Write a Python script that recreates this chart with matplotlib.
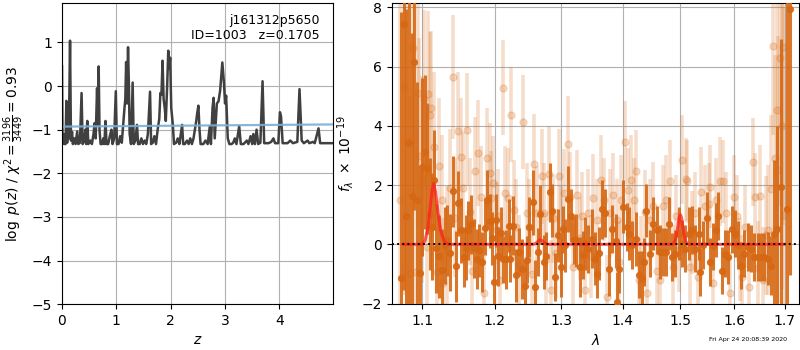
import matplotlib
matplotlib.use('Agg')
import matplotlib.pyplot as plt
from matplotlib.ticker import NullLocator, FixedLocator, FixedFormatter

# ---- left panel: log p(z) ----
pz_z = [0.000, 0.010, 0.030, 0.045, 0.065, 0.080, 0.095, 0.110, 0.125, 0.148,
        0.165, 0.185, 0.200, 0.230, 0.250, 0.280, 0.300, 0.330, 0.360, 0.380,
        0.410, 0.430, 0.445, 0.465, 0.485, 0.520, 0.550, 0.580, 0.600, 0.620,
        0.645, 0.660, 0.675, 0.690, 0.710, 0.740, 0.760, 0.780, 0.800, 0.820,
        0.850, 0.880, 0.910, 0.930, 0.960, 0.990, 1.010, 1.040, 1.070, 1.100,
        1.130, 1.150, 1.165, 1.180, 1.195, 1.215, 1.230, 1.245, 1.270, 1.300,
        1.320, 1.350, 1.380, 1.400, 1.430, 1.460, 1.490, 1.520, 1.550, 1.580,
        1.620, 1.640, 1.670, 1.700, 1.730, 1.760, 1.790, 1.810, 1.830, 1.850,
        1.870, 1.890, 1.910, 1.935, 1.955, 1.975, 1.990, 2.010, 2.040, 2.060,
        2.100, 2.130, 2.160, 2.210, 2.230, 2.260, 2.300, 2.330, 2.360, 2.390,
        2.420, 2.450, 2.470, 2.490, 2.510, 2.530, 2.550, 2.600, 2.640, 2.680,
        2.720, 2.740, 2.770, 2.790, 2.810, 2.850, 2.880, 2.910, 2.950, 2.980,
        3.000, 3.020, 3.050, 3.080, 3.120, 3.150, 3.180, 3.210, 3.260, 3.290,
        3.340, 3.400, 3.430, 3.470, 3.500, 3.520, 3.550, 3.580, 3.610, 3.650,
        3.690, 3.720, 3.800, 3.850, 3.890, 3.920, 3.980, 4.010, 4.030, 4.060,
        4.150, 4.200, 4.250, 4.330, 4.370, 4.410, 4.450, 4.520, 4.550, 4.620,
        4.650, 4.720, 4.750, 4.990]
pz_logp = [0.45, -1.33, -1.10, -1.33, -1.33, -0.34, -1.30, -0.66, -1.20, 1.04,
           -1.25, -1.05, -1.33, -1.20, -1.33, -1.04, -1.33, -1.30, -0.16, -1.33,
           -1.25, -1.00, -1.33, -0.80, -1.33, -1.25, -1.33, -1.10, -0.85, -1.20,
           -0.05, -0.90, 0.45, -1.00, -1.33, -1.33, -1.20, -1.33, -0.80, -1.33,
           -1.33, -1.15, -1.00, -1.33, -1.20, -0.12, -1.33, -1.33, -1.15, -1.30,
           -0.80, -0.50, -0.30, 0.55, -0.40, 0.89, 0.07, -1.10, -1.33, 0.08,
           -1.33, -1.25, -0.89, -1.33, -1.33, -1.20, -1.33, -1.25, -1.33, -1.10,
           -0.13, -1.33, -1.30, -1.15, -1.33, -1.00, -0.75, -0.16, -0.20, 0.58,
           -0.30, -0.50, -0.80, 0.00, 0.81, 0.40, 0.65, -0.50, -0.89, -1.33,
           -1.30, -1.20, -1.33, -0.89, -1.33, -1.33, -1.25, -1.33, -1.20, -1.33,
           -1.20, -0.96, -0.80, -0.60, -0.45, -1.00, -1.33, -1.33, -1.25, -1.33,
           -0.92, -1.33, -0.50, -0.27, -1.20, -0.40, -0.35, -0.10, 0.54, 0.07,
           -0.40, -0.22, -1.20, -1.33, -1.33, -1.30, -1.20, -1.33, -0.92, -1.33,
           -1.33, -1.25, -1.33, -1.15, -1.33, -1.10, -1.33, -1.00, -1.33, -1.30,
           0.11, -1.31, -1.31, -1.28, -1.20, -1.31, -1.31, -0.60, -0.70, -1.31,
           -1.31, -1.25, -1.31, -1.28, -0.07, -1.25, -1.31, -1.25, -1.31, -1.28,
           -1.31, -0.97, -1.31, -1.31]
prior_z = [0.0, 5.0]
prior_logp = [-0.93, -0.88]

# ---- right panel: spectrum ----
dark_wave = [1.073, 1.076, 1.079, 1.083, 1.087, 1.090, 1.093, 1.097, 1.100, 1.104,
             1.107, 1.110, 1.113, 1.116, 1.119, 1.123, 1.127, 1.131, 1.134, 1.138,
             1.142, 1.146, 1.149, 1.153, 1.157, 1.160, 1.163, 1.167, 1.171, 1.175,
             1.178, 1.182, 1.186, 1.189, 1.193, 1.196, 1.199, 1.202, 1.205, 1.209,
             1.212, 1.216, 1.221, 1.223, 1.227, 1.232, 1.236, 1.240, 1.244, 1.248,
             1.251, 1.256, 1.260, 1.264, 1.268, 1.273, 1.277, 1.282, 1.285, 1.290,
             1.295, 1.299, 1.303, 1.306, 1.311, 1.316, 1.320, 1.324, 1.329, 1.334,
             1.338, 1.343, 1.349, 1.354, 1.357, 1.361, 1.366, 1.371, 1.377, 1.382,
             1.388, 1.390, 1.393, 1.400, 1.407, 1.411, 1.416, 1.422, 1.428, 1.433,
             1.436, 1.440, 1.446, 1.452, 1.458, 1.464, 1.469, 1.475, 1.479, 1.485,
             1.491, 1.497, 1.503, 1.508, 1.515, 1.521, 1.527, 1.533, 1.536, 1.542,
             1.548, 1.554, 1.560, 1.565, 1.569, 1.576, 1.583, 1.589, 1.595, 1.602,
             1.608, 1.614, 1.620, 1.626, 1.633, 1.639, 1.646, 1.652, 1.659, 1.666,
             1.673, 1.678, 1.685, 1.693, 1.705, 1.712]
dark_flux = [-1.15, 7.45, 0.95, 3.43, 1.62, 6.15, 1.49, -0.97, 2.60, 3.10,
             2.56, 1.03, 0.60, 2.17, -0.14, -0.40, -0.88, -0.03, 0.14, -0.29,
             1.79, -0.74, 1.39, 0.47, -0.43, -0.12, 0.47, 0.68, -0.14, -0.50,
             -0.20, -0.60, 0.55, 1.51, 0.79, 0.20, -1.27, 0.81, -0.40, 0.37,
             -0.51, -0.51, 0.63, -0.48, 0.63, -1.05, -0.26, -0.83, -1.42, -0.52,
             0.58, 1.42, -1.44, -0.26, 1.01, -0.60, -0.40, 1.76, 1.13, -1.10,
             0.30, -0.77, 0.50, -0.04, 1.53, 0.97, 0.13, 0.13, -0.77, -0.36,
             0.03, -0.16, 0.19, -0.48, -1.00, -0.30, 1.18, 1.05, -0.83, 0.52,
             0.11, -1.94, -0.83, 1.27, 0.59, 0.36, -0.03, 0.18, -1.02, -1.14,
             -0.60, 1.14, -0.32, 0.70, 0.48, -0.26, -0.26, -0.26, 0.70, -0.43,
             -0.32, 0.36, 0.02, -0.15, 0.36, 0.48, -0.15, 0.36, -0.94, -0.03,
             0.88, -0.60, -0.07, 0.48, 0.95, -0.89, -0.32, -0.43, 0.50, 0.36,
             -0.03, -0.72, -0.32, -0.09, -0.15, -0.43, -0.43, -0.43, -0.43, -0.49,
             -0.72, 0.36, 0.50, 1.92, 1.18, 7.95]
dark_err = [9.0, 9.0, 7.0, 6.0, 5.5, 5.0, 4.0, 3.5, 3.0, 2.6,
            2.2, 1.9, 1.8, 1.7, 1.5, 1.4, 1.4, 1.3, 1.2, 1.3,
            1.2, 1.2, 1.1, 1.1, 1.0, 1.1, 1.0, 1.0, 1.0, 1.0,
            0.9, 1.0, 0.9, 1.0, 0.9, 0.9, 0.9, 0.9, 1.0, 0.9,
            0.8, 1.0, 0.9, 0.8, 1.0, 0.9, 0.8, 1.0, 0.9, 0.8,
            1.0, 1.1, 0.9, 0.8, 1.0, 0.9, 0.8, 1.0, 0.9, 0.8,
            0.9, 1.0, 0.8, 0.9, 1.1, 0.9, 0.8, 0.9, 1.0, 0.8,
            0.9, 0.8, 1.0, 0.9, 0.8, 0.9, 1.0, 0.8, 0.9, 0.8,
            0.9, 1.0, 0.8, 0.9, 0.8, 0.9, 0.8, 0.9, 0.8, 0.9,
            0.8, 0.9, 0.8, 0.9, 0.8, 0.9, 0.8, 0.8, 0.9, 0.8,
            0.8, 0.9, 0.8, 0.8, 0.9, 0.8, 0.8, 0.9, 0.8, 0.8,
            0.9, 0.8, 0.8, 0.9, 0.8, 0.8, 0.8, 0.9, 0.8, 0.8,
            0.8, 0.8, 0.8, 0.8, 0.8, 0.8, 0.8, 0.8, 0.8, 0.9,
            1.0, 2.5, 3.5, 5.0, 7.0, 9.0]

light_wave = [1.071, 1.077, 1.080, 1.084, 1.088, 1.091, 1.094, 1.096, 1.100, 1.103,
              1.106, 1.108, 1.110, 1.112, 1.116, 1.120, 1.122, 1.126, 1.128, 1.134,
              1.137, 1.142, 1.145, 1.149, 1.153, 1.155, 1.161, 1.165, 1.168, 1.172,
              1.177, 1.181, 1.185, 1.189, 1.193, 1.195, 1.198, 1.203, 1.205, 1.208,
              1.212, 1.215, 1.220, 1.224, 1.228, 1.232, 1.236, 1.241, 1.247, 1.251,
              1.255, 1.258, 1.263, 1.270, 1.273, 1.277, 1.281, 1.284, 1.288, 1.292,
              1.296, 1.300, 1.304, 1.310, 1.314, 1.319, 1.325, 1.329, 1.333, 1.338,
              1.343, 1.347, 1.351, 1.357, 1.363, 1.369, 1.373, 1.379, 1.384, 1.390,
              1.393, 1.397, 1.404, 1.408, 1.413, 1.419, 1.423, 1.427, 1.430, 1.437,
              1.441, 1.446, 1.452, 1.458, 1.464, 1.469, 1.474, 1.481, 1.486, 1.492,
              1.497, 1.503, 1.510, 1.512, 1.517, 1.521, 1.526, 1.532, 1.537, 1.545,
              1.552, 1.554, 1.560, 1.566, 1.573, 1.579, 1.585, 1.592, 1.600, 1.606,
              1.611, 1.615, 1.621, 1.629, 1.636, 1.641, 1.646, 1.651, 1.657, 1.662,
              1.667, 1.672, 1.677, 1.681, 1.684, 1.687, 1.691, 1.694, 1.696, 1.699]
light_flux = [1.50, 5.30, 3.48, -0.98, 6.64, -0.93, 5.10, 2.97, 2.18, 4.90,
              -0.08, 5.06, 4.38, 4.60, 3.30, -0.93, 2.63, 1.50, -1.32, -0.14,
              1.90, 5.65, 0.90, 3.81, 2.95, 1.90, 3.87, 1.10, -0.90, 2.49,
              3.08, 1.61, -1.66, 2.91, 2.40, 1.56, 2.07, 0.49, 0.94, -1.20,
              5.28, 1.73, 1.56, 4.38, 1.16, 0.60, -0.70, 4.13, 1.05, 0.60,
              -1.00, 2.71, 1.05, 2.29, 1.05, -0.50, 2.38, -1.55, 0.88, -0.30,
              2.29, 0.50, 1.73, 3.39, 1.61, -0.76, 1.67, 0.20, 0.94, -1.55,
              1.05, -0.40, 1.56, 0.82, 2.18, 1.50, -1.77, 1.05, 1.67, 0.82,
              -0.60, 1.50, 3.44, 1.84, 2.18, 1.50, 2.46, -1.20, -0.53, 1.10,
              -1.66, 0.82, 1.28, -0.90, -1.21, 1.28, 1.50, 2.12, -0.76, 0.94,
              -0.20, 2.86, 2.20, 2.12, -0.76, 0.40, 1.05, -1.09, 1.78, 1.28,
              1.35, 1.95, -1.32, 1.50, 2.12, 2.12, 1.05, -1.66, 1.61, 0.94,
              -0.50, -1.09, 0.60, -1.43, 2.78, 1.59, -0.80, 1.64, -1.21, 0.30,
              0.49, 1.86, 6.69, 2.90, 4.55, 2.52, 6.30, 3.98, 6.66, 1.00]
light_err = [8.5, 7.0, 6.5, 6.0, 5.5, 5.0, 4.5, 4.0, 3.5, 3.0,
             3.0, 2.8, 2.8, 2.6, 2.5, 2.4, 2.3, 2.2, 2.2, 2.1,
             2.0, 2.1, 2.0, 2.0, 2.0, 1.9, 1.9, 1.8, 1.8, 1.8,
             1.8, 1.7, 1.7, 1.7, 1.7, 1.6, 1.6, 1.6, 1.6, 1.6,
             1.6, 1.6, 1.7, 1.6, 1.7, 1.6, 1.7, 1.6, 1.7, 1.6,
             1.6, 1.7, 1.6, 1.6, 1.7, 1.6, 1.6, 1.7, 1.5, 1.5,
             1.6, 1.5, 1.5, 1.6, 1.5, 1.4, 1.5, 1.4, 1.5, 1.4,
             1.5, 1.4, 1.5, 1.4, 1.5, 1.4, 1.4, 1.5, 1.4, 1.4,
             1.4, 1.5, 1.4, 1.4, 1.5, 1.4, 1.4, 1.4, 1.5, 1.4,
             1.4, 1.4, 1.5, 1.4, 1.4, 1.4, 1.5, 1.4, 1.4, 1.4,
             1.4, 1.5, 1.4, 1.4, 1.4, 1.4, 1.4, 1.4, 1.5, 1.4,
             1.4, 1.4, 1.4, 1.4, 1.5, 1.4, 1.4, 1.4, 1.4, 1.4,
             1.4, 1.4, 1.4, 1.4, 1.5, 1.5, 1.6, 1.7, 1.8, 2.0,
             2.2, 2.5, 3.0, 3.5, 4.0, 4.5, 5.0, 5.5, 6.0, 7.0]

model_wave = [1.075, 1.100, 1.104, 1.108, 1.111, 1.1135, 1.1155, 1.118, 1.121, 1.125,
              1.130, 1.135, 1.258, 1.262, 1.266, 1.268, 1.271, 1.275, 1.279, 1.487,
              1.491, 1.495, 1.498, 1.500, 1.502, 1.505, 1.509, 1.513, 1.700]
model_flux = [0.0, 0.0, 0.12, 0.60, 1.30, 1.85, 2.05, 1.75, 1.10, 0.45,
              0.08, 0.0, 0.0, 0.05, 0.13, 0.15, 0.12, 0.04, 0.0, 0.0,
              0.15, 0.55, 0.92, 1.00, 0.90, 0.50, 0.12, 0.0, 0.0]

wave_ticks = [1.1, 1.2, 1.3, 1.4, 1.5, 1.6, 1.7]
wave_labels = ['1.1', '1.2', '1.3', '1.4', '1.5', '1.6', '1.7']

orange = '#d66814'

fig = plt.figure(figsize=(8, 3.5), dpi=100)
ax1 = fig.add_axes([0.0775, 0.131, 0.339, 0.86])
ax2 = fig.add_axes([0.49, 0.131, 0.509, 0.86])

# p(z)
ax1.plot(pz_z, pz_logp, color='0.25', lw=1.8)
ax1.plot(prior_z, prior_logp, color='#7aaed6', lw=1.6, alpha=0.9)
ax1.set_xlim(0, 4.99)
ax1.set_ylim(-5, 1.9)
ax1.set_xticks([0, 1, 2, 3, 4])
ax1.set_yticks([-5, -4, -3, -2, -1, 0, 1])
ax1.grid(True)
ax1.tick_params(labelsize=10)
ax1.set_xlabel('$z$', fontsize=10)
ax1.set_ylabel(r'$\log\ p(z)$ / $\chi^2=\frac{3196}{3449}=0.93$', fontsize=10)
ax1.text(0.95, 0.965, 'j161312p5650\nID=1003   z=0.1705', transform=ax1.transAxes,
         ha='right', va='top', fontsize=9)

# spectrum
ax2.errorbar(light_wave, light_flux, yerr=light_err, color=orange, alpha=0.22,
             marker='o', ms=5, lw=2.6, linestyle='None', zorder=2)
ax2.errorbar(dark_wave, dark_flux, yerr=dark_err, color=orange, alpha=0.9,
             marker='o', ms=4.2, lw=2.2, linestyle='None', zorder=3)
ax2.plot(model_wave, model_flux, color='#ff2020', lw=2.2, alpha=0.75, zorder=4)
ax2.axhline(0, color='k', ls=':', lw=1.4, zorder=5)
ax2.set_xscale('log')
ax2.set_xlim(1.061, 1.73)
ax2.set_ylim(-2.02, 8.14)
ax2.xaxis.set_major_locator(FixedLocator(wave_ticks))
ax2.xaxis.set_major_formatter(FixedFormatter(wave_labels))
ax2.xaxis.set_minor_locator(NullLocator())
ax2.set_yticks([-2, 0, 2, 4, 6, 8])
ax2.grid(True)
ax2.tick_params(labelsize=10)
ax2.set_xlabel(r'$\lambda$', fontsize=10)
ax2.set_ylabel(r'$f_\lambda\ \times\ 10^{-19}$', fontsize=10)

fig.text(0.984, 0.03, 'Fri Apr 24 20:08:39 2020', ha='right', va='center', fontsize=4.5)

fig.savefig('out.png', dpi=100)
